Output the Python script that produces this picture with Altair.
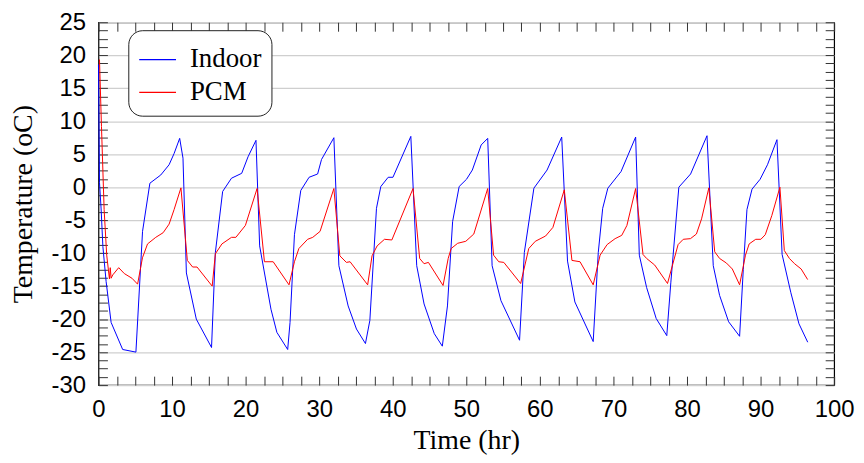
import altair as alt
import pandas as pd
import numpy as np

# ---- data ----
indoor_time = [0, 0.14, 0.36, 0.6, 1.04, 1.72, 3.29, 5.09,
               5.99, 6.99, 8.47, 9.6, 10.28, 11.04, 11.49,
               11.95, 13.3, 15.37,
               15.89, 16.88, 18.08, 19.47, 20.33, 21.41,
               21.91, 23.45, 24.25, 25.72,
               26.04, 26.64, 27.5, 28.63, 29.79, 30.32, 32.0,
               32.68, 33.94, 35.07, 36.29,
               36.89, 37.79, 38.38, 39.38, 40.03, 42.46,
               43.26, 44.26, 45.65, 46.74,
               47.44, 48.14, 49.03, 50.03, 50.82, 52.02, 52.91,
               53.51, 54.71, 57.24,
               57.89, 59.19, 60.98, 62.97,
               63.76, 64.76, 67.25,
               67.94, 68.54, 69.24, 71.03, 73.02,
               73.52, 74.51, 75.81, 77.25,
               77.8, 78.89, 80.49, 82.72,
               83.57, 84.43, 85.66, 87.15,
               87.65, 88.15, 88.84, 89.94, 90.94, 92.23,
               92.93, 94.12, 95.22, 96.41]
indoor_temp = [18.6, 0.7, -3.3, -9.0, -14.3, -20.5, -24.6, -25.0,
               -6.7, 0.6, 1.85, 3.4, 5.1, 7.4, 4.4,
               -13.0, -20.0, -24.3,
               -9.9, -0.65, 1.36, 2.1, 4.6, 7.1,
               -8.9, -18.5, -22.0, -24.6,
               -20.5, -7.2, -0.5, 1.5, 2.0, 4.2, 7.5,
               -11.9, -18.0, -21.5, -23.7,
               -20.2, -3.2, 0.1, 1.5, 1.5, 7.7,
               -11.9, -17.7, -22.2, -24.1,
               -18.0, -5.2, 0.1, 1.2, 2.6, 6.4, 7.4,
               -11.9, -17.2, -23.2,
               -9.9, -0.15, 2.6, 7.6,
               -11.2, -17.4, -23.4,
               -9.9, -3.2, -0.15, 2.36, 7.6,
               -10.3, -15.2, -19.9, -22.5,
               -14.5, 0.0, 2.0, 7.8,
               -11.9, -16.4, -20.4, -22.6,
               -12.5, -3.4, -0.3, 1.2, 3.4, 7.2,
               -10.2, -16.0, -20.7, -23.5]

pcm_time = [0.14, 0.41, 0.77, 1.12, 1.49, 1.6, 1.72, 1.94, 2.75, 3.52, 4.55, 5.32,
            5.98, 6.67, 7.79, 8.79, 9.6, 10.28, 11.21,
            12.08, 12.8, 13.4, 15.46,
            15.89, 16.78, 18.08, 18.68, 19.97, 21.56,
            22.56, 23.75, 25.9,
            26.64, 27.24, 28.43, 29.13, 30.12, 32.0,
            32.81, 33.7, 34.2, 36.59,
            37.19, 37.88, 38.88, 39.88, 42.76,
            43.66, 44.26, 44.85, 46.84,
            47.54, 47.94, 48.83, 49.93, 51.02, 52.91,
            53.71, 54.41, 55.1, 57.39,
            58.49, 59.38, 60.78, 61.77, 63.32,
            64.36, 65.46, 67.25,
            68.19, 69.14, 70.23, 71.13, 71.83, 73.02,
            74.02, 74.51, 75.61, 77.35,
            78.79, 79.49, 80.47, 81.28, 81.98, 82.97,
            83.77, 84.43, 85.36, 86.16, 87.15,
            87.95, 88.45, 89.34, 90.04, 90.64, 91.53, 92.63,
            93.23, 93.92, 94.62, 95.52, 96.4]
pcm_temp = [19.35, 9.2, -3.4, -10.3, -13.9, -12.2, -13.8, -13.3, -12.2, -13.1, -13.8, -14.7,
            -10.7, -8.6, -7.6, -6.9, -5.6, -3.4, -0.1,
            -11.1, -12.1, -12.1, -15.0,
            -10.1, -8.6, -7.6, -7.6, -5.8, -0.2,
            -11.3, -11.3, -14.8,
            -11.3, -9.3, -7.9, -7.6, -6.7, -0.2,
            -10.4, -11.4, -11.3, -14.8,
            -10.4, -8.9, -7.9, -8.0, -0.2,
            -10.8, -11.6, -11.4, -14.9,
            -10.8, -9.3, -8.5, -8.2, -7.1, -0.2,
            -10.3, -11.3, -11.4, -14.6,
            -9.3, -8.2, -7.4, -6.1, -0.4,
            -11.1, -11.3, -14.8,
            -10.3, -8.7, -7.8, -7.3, -5.8, -0.2,
            -10.2, -10.8, -11.8, -14.6,
            -8.7, -7.9, -7.8, -7.1, -4.8, -0.1,
            -9.8, -10.8, -11.5, -12.4, -14.8,
            -10.3, -8.6, -7.9, -7.9, -7.2, -4.3, 0.0,
            -9.6, -10.8, -11.6, -12.4, -14.0]

series_names = ["Indoor", "PCM"]
series_colors = ["#0000ff", "#ff0000"]

x_domain = [0, 100]
y_domain = [-30, 25]
x_ticks = [float(v) for v in np.arange(0, 100.001, 2.5)]     # minor+major tick positions
y_ticks = [float(v) for v in np.arange(-30, 25.001, 1.25)]

df = pd.concat([
    pd.DataFrame({"time": indoor_time, "temp": indoor_temp, "series": "Indoor",
                  "idx": range(len(indoor_time))}),
    pd.DataFrame({"time": pcm_time, "temp": pcm_temp, "series": "PCM",
                  "idx": range(len(pcm_time))}),
], ignore_index=True)

x_scale = alt.Scale(domain=x_domain, nice=False, zero=False)
y_scale = alt.Scale(domain=y_domain, nice=False, zero=False)

LABEL_FONT = "Liberation Sans"
SERIF = "Liberation Serif"

base = alt.Chart(df)

main = base.mark_line(strokeWidth=1).encode(
    x=alt.X("time:Q", scale=x_scale, axis=alt.Axis(
        orient="bottom", values=x_ticks,
        labelExpr="datum.value % 10 === 0 ? '' + datum.value : ''",
        title="Time (hr)", offset=-9, tickSize=9, tickColor="#333", domain=False,
        grid=False, labelFlush=False, labelOverlap=False, labelPadding=13,
        labelFont=LABEL_FONT, labelFontSize=24, labelColor="black",
        titleFont=SERIF, titleFontSize=28, titleFontWeight="normal",
        titleColor="black", titlePadding=5)),
    y=alt.Y("temp:Q", scale=y_scale, axis=alt.Axis(
        orient="left", values=y_ticks,
        labelExpr="datum.value % 5 === 0 ? '' + datum.value : ''",
        title="Temperature (oC)", offset=-9, tickSize=9, tickColor="#333", domain=False,
        grid=True, gridColor="#cfcfcf", gridWidth=1.3,
        gridOpacity={"condition": {"test": "datum.value % 5 === 0", "value": 1}, "value": 0},
        labelOverlap=False, labelPadding=13,
        labelFont=LABEL_FONT, labelFontSize=24, labelColor="black",
        titleFont=SERIF, titleFontSize=28, titleFontWeight="normal",
        titleColor="black", titlePadding=14)),
    color=alt.Color("series:N", scale=alt.Scale(domain=series_names, range=series_colors),
                    legend=alt.Legend(
                        orient="none", legendX=30, legendY=8, title=None,
                        symbolType="stroke", symbolSize=1369, symbolStrokeWidth=1.2,
                        labelFont=SERIF, labelFontSize=27, labelColor="black",
                        labelOffset=13, rowPadding=0, padding=10, cornerRadius=14,
                        strokeColor="#222", fillColor="white",
                        labelExpr="datum.label + '  '")),
    order="idx:Q",
)

ghost = base.mark_line(opacity=0).encode(
    x=alt.X("time:Q", scale=x_scale, axis=alt.Axis(
        orient="top", values=x_ticks, labels=False, title=None, offset=-9,
        tickSize=9, tickColor="#333", domain=False, grid=False)),
    y=alt.Y("temp:Q", scale=y_scale, axis=alt.Axis(
        orient="right", values=y_ticks, labels=False, title=None, offset=-9,
        tickSize=9, tickColor="#333", domain=False, grid=False)),
    detail="series:N",
    order="idx:Q",
)

chart = alt.layer(main, ghost).resolve_axis(
    x="independent", y="independent"
).properties(
    width=740, height=365,
    padding={"left": 91, "top": 13, "right": 22, "bottom": 75},
    autosize=alt.AutoSizeParams(type="none"),
).configure_view(stroke="black", strokeWidth=1.2)

chart.save("out.html", embed_options={"renderer": "svg", "actions": False})
